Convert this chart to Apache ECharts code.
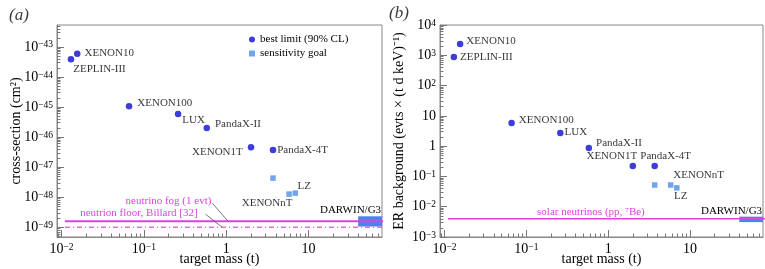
<!DOCTYPE html>
<html>
<head>
<meta charset="utf-8">
<script src="https://cdn.jsdelivr.net/npm/echarts@6/dist/echarts.min.js"></script>
<style>
html, body { margin: 0; padding: 0; background: #fff; }
#chart { width: 765px; height: 269px; }
</style>
</head>
<body>
<div id="chart"></div>
<script>
// measured experiments (same target masses in both panels)
const experiments = ['ZEPLIN-III', 'XENON10', 'XENON100', 'LUX', 'PandaX-II', 'XENON1T', 'PandaX-4T'];
const targetMass = [0.013, 0.0155, 0.066, 0.26, 0.58, 2.0, 3.7];
const crossSection = [3.9e-44, 5.9e-44, 1.07e-45, 5.9e-46, 2.0e-46, 4.6e-47, 3.7e-47];
const erBackground = [870, 2350, 5.8, 2.7, 0.87, 0.22, 0.22];

// sensitivity goals
const goals = ['PandaX-4T goal', 'XENONnT', 'LZ'];
const goalMass = [3.7, 5.8, 6.9];
const goalCrossSection = [4.3e-48, 1.26e-48, 1.36e-48];
const goalBackground = [0.052, 0.052, 0.042];

// DARWIN/G3 band
const darwinMass = [40, 100];
const darwinCrossSection = [1.05e-49, 2.3e-49];
const darwinBackground = [0.0031, 0.0047];

// neutrino limits
const nuMass = [0.011, 100];
const fogCrossSection = [1.58e-49, 1.58e-49];
const floorCrossSection = [1.0e-49, 1.0e-49];
const solarBackground = [0.004, 0.004];

// axis ticks
const massTicks = [0.01, 0.1, 1, 10];
const csTicks = [1e-49, 1e-48, 1e-47, 1e-46, 1e-45, 1e-44, 1e-43];
const bgTicks = [1e-3, 1e-2, 1e-1, 1, 10, 100, 1000, 10000];

const font = 'Liberation Serif';
const blue = '#0c0cd2';
const lightBlue = '#4b8fe6';
const magenta = '#e040e0';

// cross-sections are too small for the echarts log scale (it rounds them to 0),
// so panel (a) uses a linear axis over log10 of the value
const lg = Math.log10;

const minorValues = (min, max) => {
  const out = [];
  for (let e = Math.floor(lg(min)); e <= Math.ceil(lg(max)); e++) {
    for (let k = 2; k <= 9; k++) {
      const v = k * Math.pow(10, e);
      if (v >= min && v <= max) out.push(v);
    }
  }
  return out;
};

const expLabel = (e) => {
  e = Math.round(e);
  if (e === 0) return '1';
  if (e === 1) return '10';
  return '{b|10}{s|' + (e < 0 ? '\u2212' : '') + Math.abs(e) + '}';
};
const powerLabel = (v) => expLabel(lg(v));

const rich = {
  b: { fontFamily: font, fontSize: 14, color: '#000' },
  s: { fontFamily: font, fontSize: 9.5, color: '#000', verticalAlign: 'top' }
};

function axisPair(gridIndex, isX, type, min, max, majors, minors, formatter, name, nameGap) {
  const pos = isX ? 'bottom' : 'left';
  return [
    {
      type, gridIndex, min, max, position: pos,
      axisLine: { show: true, lineStyle: { color: '#888', width: 1 } },
      axisTick: { show: true, inside: true, length: 7, customValues: majors, lineStyle: { color: '#777' } },
      axisLabel: { customValues: majors, formatter, margin: isX ? 5 : 4, rich,
        fontFamily: font, fontSize: 14, color: '#000' },
      splitLine: { show: false },
      name, nameLocation: 'middle', nameGap, nameMoveOverlap: false,
      nameTextStyle: { fontFamily: font, fontSize: 14, fontStyle: 'normal', color: '#000' }
    },
    {
      type, gridIndex, min, max, position: pos,
      axisLine: { show: false },
      axisTick: { show: true, inside: true, length: 3.5, customValues: minors, lineStyle: { color: '#777' } },
      axisLabel: { show: false },
      splitLine: { show: false }
    }
  ];
}

// label placement for each point name: [position, offset]
const placeA = {
  'XENON10': ['right', [-1, -1]],
  'ZEPLIN-III': ['right', [-6, 10]],
  'XENON100': ['right', [0, -3]],
  'LUX': ['right', [-4, 6]],
  'PandaX-II': ['right', [0, -4]],
  'XENON1T': ['left', [0, 5]],
  'PandaX-4T': ['right', [-4, 0]],
  'XENONnT': ['bottom', [-22, -4]],
  'LZ': ['top', [9, 6]]
};
const placeB = {
  'XENON10': ['right', [-2, -3]],
  'ZEPLIN-III': ['right', [-2, 0]],
  'XENON100': ['right', [-1, -3]],
  'LUX': ['right', [-4, -1]],
  'PandaX-II': ['right', [-1, -5]],
  'XENON1T': ['top', [-21, 4]],
  'PandaX-4T': ['top', [11, 4]],
  'XENONnT': ['top', [28, 3]],
  'LZ': ['bottom', [4, -5]]
};

function points(names, xs, ys, place) {
  return names.map((n, i) => {
    const p = place[n];
    return {
      name: n,
      value: [xs[i], ys[i]],
      label: p ? { show: true, formatter: n, position: p[0], offset: p[1], distance: 5,
        fontFamily: font, fontSize: 11, color: '#000' } : { show: false }
    };
  });
}

function bandSeries(xs, ys, xi, yi) {
  return {
    type: 'custom', xAxisIndex: xi, yAxisIndex: yi, silent: true, z: 2,
    encode: { x: [0, 1], y: [2, 3] },
    data: [[xs[0], xs[1], ys[0], ys[1]]],
    renderItem: (params, api) => {
      const p0 = api.coord([api.value(0), api.value(3)]);
      const p1 = api.coord([api.value(1), api.value(2)]);
      const cs = params.coordSys;
      const shape = echarts.graphic.clipRectByRect(
        { x: p0[0], y: p0[1], width: p1[0] - p0[0], height: p1[1] - p0[1] },
        { x: cs.x, y: cs.y, width: cs.width, height: cs.height });
      return shape && { type: 'rect', shape, style: { fill: '#4a86e8' } };
    }
  };
}

function lineSeries(xs, ys, xi, yi, style) {
  return {
    type: 'line', xAxisIndex: xi, yAxisIndex: yi, silent: true, z: 3,
    showSymbol: false, symbol: 'none',
    data: xs.map((x, i) => [x, ys[i]]),
    lineStyle: style
  };
}

function noteSeries(notes, xi, yi) {
  return {
    type: 'custom', xAxisIndex: xi, yAxisIndex: yi, silent: true, z: 5,
    data: notes.map((n, i) => [n.at[0], n.at[1], i]),
    renderItem: (params, api) => {
      const n = notes[params.dataIndex];
      const p = api.coord(n.at);
      const children = [{
        type: 'text', x: p[0], y: p[1],
        style: { text: n.text, fill: n.color, font: '11px "Liberation Serif"', align: 'right', verticalAlign: 'middle' }
      }];
      if (n.from) {
        const a = api.coord(n.from), b = api.coord(n.to);
        children.push({ type: 'line', shape: { x1: a[0], y1: a[1], x2: b[0], y2: b[1] },
          style: { stroke: '#555', lineWidth: 0.8 } });
      }
      return { type: 'group', children };
    }
  };
}

const notesA = [
  { text: 'neutrino fog (1 evt)', at: [0.66, lg(7.3e-49)], color: magenta, from: [0.68, lg(6.2e-49)], to: [1.05, lg(1.58e-49)] },
  { text: 'neutrion floor, Billard [32]', at: [0.45, lg(2.9e-49)], color: magenta, from: [0.56, lg(2.7e-49)], to: [0.89, lg(1.0e-49)] },
  { text: 'DARWIN/G3', at: [76, lg(3.7e-49)], color: '#000' }
];
const notesB = [
  { text: 'solar neutrinos (pp, \u2077Be)', at: [2.8, 0.0068], color: magenta },
  { text: 'DARWIN/G3', at: [76, 0.0072], color: '#000' }
];

const chart = echarts.init(document.getElementById('chart'), null, { renderer: 'canvas' });

const xMin = 0.0088, xMax = 78;
const csMin = 4.7e-50, csMax = 5.4e-43;
const bgMin = 1e-3, bgMax = 1e4;

const option = {
  animation: false,
  title: [
    { text: '(a)', left: 4, top: 2, textStyle: { fontFamily: font, fontStyle: 'italic', fontWeight: 'normal', fontSize: 17 } },
    { text: '(b)', left: 384, top: 0, textStyle: { fontFamily: font, fontStyle: 'italic', fontWeight: 'normal', fontSize: 17 } }
  ],
  legend: {
    left: 244, top: 29, orient: 'vertical', itemWidth: 6, itemHeight: 6, itemGap: 3,
    selectedMode: false,
    data: [{ name: 'best limit (90% CL)', icon: 'circle' }, { name: 'sensitivity goal', icon: 'rect' }],
    textStyle: { fontFamily: font, fontSize: 11, color: '#000' }
  },
  grid: [
    { left: 57, top: 25, width: 325, height: 212, show: true, borderColor: '#888', borderWidth: 1, outerBoundsMode: 'none', containLabel: false },
    { left: 440, top: 25, width: 323, height: 212, show: true, borderColor: '#888', borderWidth: 1, outerBoundsMode: 'none', containLabel: false }
  ],
  xAxis: [
    ...axisPair(0, true, 'log', xMin, xMax, massTicks, minorValues(xMin, xMax), powerLabel, 'target mass (t)', 15),
    ...axisPair(1, true, 'log', xMin, xMax, massTicks, minorValues(xMin, xMax), powerLabel, 'target mass (t)', 15)
  ],
  yAxis: [
    ...axisPair(0, false, 'value', lg(csMin), lg(csMax), csTicks.map(lg), minorValues(csMin, csMax).map(lg),
      expLabel, 'cross-section (cm\u00b2)', 34),
    ...axisPair(1, false, 'log', bgMin, bgMax, bgTicks, minorValues(bgMin, bgMax), powerLabel,
      'ER background (evts \u00d7 (t d keV)\u207b\u00b9)', 34)
  ],
  series: [
    bandSeries(darwinMass, darwinCrossSection.map(lg), 0, 0),
    lineSeries(nuMass, fogCrossSection.map(lg), 0, 0, { color: magenta, width: 2 }),
    lineSeries(nuMass, floorCrossSection.map(lg), 0, 0, { color: '#e070e0', width: 1.5, type: [5, 3, 1, 3] }),
    {
      name: 'best limit (90% CL)', type: 'scatter', xAxisIndex: 0, yAxisIndex: 0, z: 4,
      symbol: 'circle', symbolSize: 6.5, itemStyle: { color: blue },
      data: points(experiments, targetMass, crossSection.map(lg), placeA)
    },
    {
      name: 'sensitivity goal', type: 'scatter', xAxisIndex: 0, yAxisIndex: 0, z: 4,
      symbol: 'rect', symbolSize: 5.5, itemStyle: { color: lightBlue },
      data: points(goals, goalMass, goalCrossSection.map(lg), placeA)
    },
    noteSeries(notesA, 0, 0),

    bandSeries(darwinMass, darwinBackground, 2, 2),
    lineSeries(nuMass, solarBackground, 2, 2, { color: magenta, width: 1.5 }),
    {
      name: 'best limit (90% CL)', type: 'scatter', xAxisIndex: 2, yAxisIndex: 2, z: 4,
      symbol: 'circle', symbolSize: 6.5, itemStyle: { color: blue },
      data: points(experiments, targetMass, erBackground, placeB)
    },
    {
      name: 'sensitivity goal', type: 'scatter', xAxisIndex: 2, yAxisIndex: 2, z: 4,
      symbol: 'rect', symbolSize: 5.5, itemStyle: { color: lightBlue },
      data: points(goals, goalMass, goalBackground, placeB)
    },
    noteSeries(notesB, 2, 2)
  ]
};

chart.setOption(option);
window.addEventListener('resize', () => chart.resize());
</script>
</body>
</html>
